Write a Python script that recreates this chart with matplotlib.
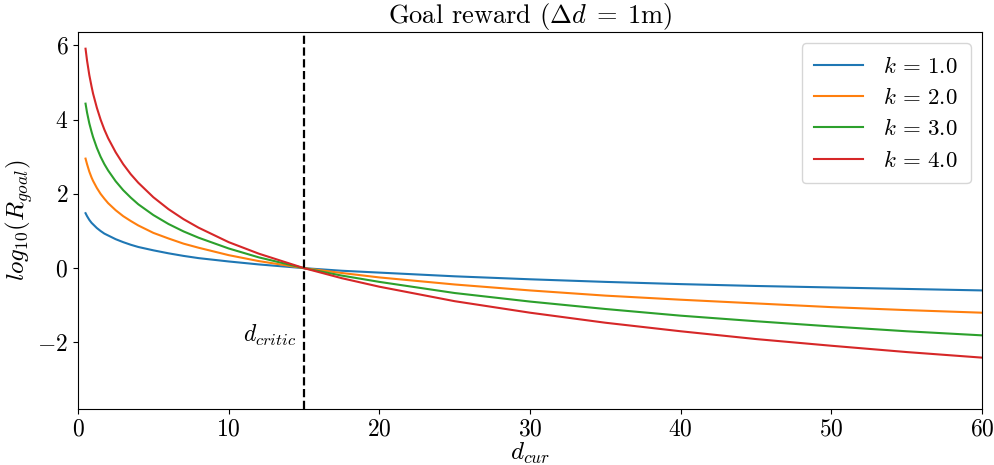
import matplotlib
matplotlib.use("Agg")
import matplotlib.pyplot as plt

plt.rcParams["font.family"] = "serif"
plt.rcParams["font.serif"] = ["cmr10"]
plt.rcParams["mathtext.fontset"] = "cm"
plt.rcParams["axes.formatter.use_mathtext"] = True

# Sampled current distances (m) and log10 goal reward for each exponent k
d_cur = [0.5, 0.6, 0.75, 0.9, 1.0, 1.25, 1.5, 1.75, 2.0, 2.5, 3.0, 3.5, 4.0,
         5.0, 6.0, 7.0, 8.0, 10.0, 12.0, 15.0, 17.5, 20.0, 25.0, 30.0, 35.0,
         40.0, 45.0, 50.0, 55.0, 60.0]
k_values = [1.0, 2.0, 3.0, 4.0]
reward_k1 = [1.48, 1.40, 1.30, 1.22, 1.18, 1.08, 1.00, 0.93, 0.88, 0.78, 0.70,
             0.63, 0.57, 0.48, 0.40, 0.33, 0.27, 0.18, 0.10, 0.00, -0.07,
             -0.12, -0.22, -0.30, -0.37, -0.43, -0.48, -0.52, -0.56, -0.60]
reward_k2 = [2.95, 2.80, 2.60, 2.44, 2.35, 2.16, 2.00, 1.87, 1.75, 1.56, 1.40,
             1.27, 1.15, 0.95, 0.80, 0.66, 0.55, 0.35, 0.19, 0.00, -0.13,
             -0.25, -0.44, -0.60, -0.74, -0.85, -0.95, -1.05, -1.13, -1.20]
reward_k3 = [4.43, 4.19, 3.90, 3.67, 3.53, 3.24, 3.00, 2.80, 2.63, 2.34, 2.10,
             1.90, 1.72, 1.43, 1.19, 0.99, 0.82, 0.53, 0.29, 0.00, -0.20,
             -0.37, -0.67, -0.90, -1.10, -1.28, -1.43, -1.57, -1.70, -1.81]
reward_k4 = [5.91, 5.59, 5.20, 4.89, 4.70, 4.32, 4.00, 3.73, 3.50, 3.12, 2.80,
             2.53, 2.30, 1.91, 1.59, 1.32, 1.09, 0.70, 0.39, 0.00, -0.27,
             -0.50, -0.89, -1.20, -1.47, -1.70, -1.91, -2.09, -2.26, -2.41]
rewards = [reward_k1, reward_k2, reward_k3, reward_k4]
d_critic = 15.0

fig = plt.figure(figsize=(9.95, 4.65), dpi=100)
ax = fig.add_axes([0.0784, 0.1215, 0.9086, 0.8105])

colors = ["#1f77b4", "#ff7f0e", "#2ca02c", "#d62728"]
for k, r, c in zip(k_values, rewards, colors):
    ax.plot(d_cur, r, color=c, lw=1.5, label=rf"$k\,=\,{k:.1f}$")

ax.axvline(d_critic, color="black", ls="--", lw=1.6)
ax.text(d_critic - 0.5, -1.82, r"$d_{critic}$", ha="right", va="center",
        fontsize=17)

ax.set_xlim(0, 60)
ax.set_ylim(-3.78, 6.37)
ax.set_xticks([0, 10, 20, 30, 40, 50, 60])
ax.set_yticks([-2, 0, 2, 4, 6])
ax.tick_params(labelsize=17)

ax.set_title(r"Goal reward ($\Delta d\;=\;1$m)", fontsize=19, pad=3)
ax.set_xlabel(r"$d_{cur}$", fontsize=18, labelpad=0)
ax.set_ylabel(r"$log_{10}(R_{goal})$", fontsize=18, labelpad=2)

ax.legend(loc="upper right", fontsize=16.5, handlelength=2.1,
          borderpad=0.55, labelspacing=0.45, handletextpad=0.9)

fig.savefig("out.png", dpi=100)
